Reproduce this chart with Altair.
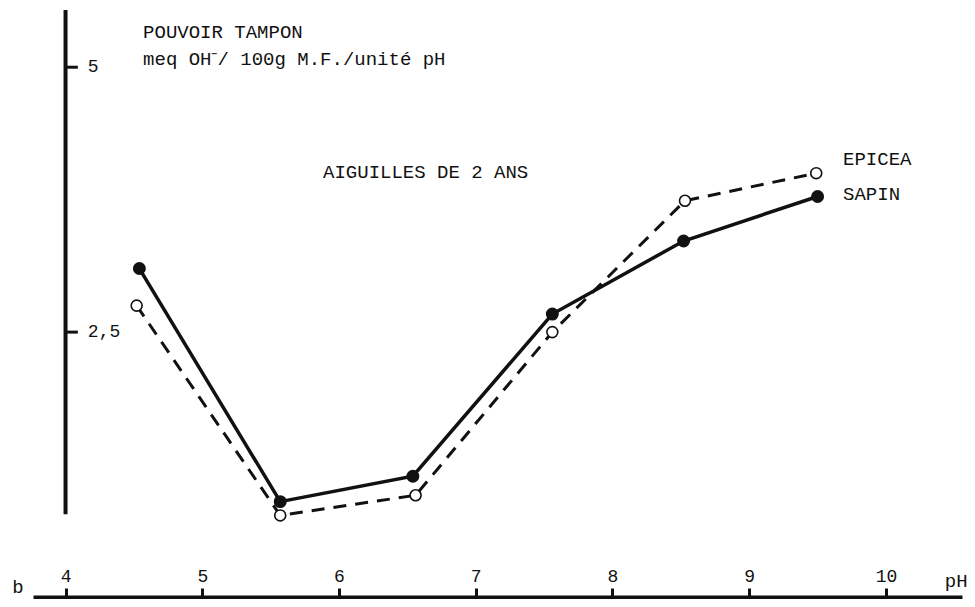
import altair as alt
import pandas as pd

# Data
ph_sapin = [4.54, 5.57, 6.54, 7.56, 8.52, 9.50]
val_sapin = [3.10, 0.90, 1.14, 2.67, 3.36, 3.78]
ph_epicea = [4.52, 5.57, 6.56, 7.56, 8.53, 9.49]
val_epicea = [2.75, 0.77, 0.96, 2.50, 3.74, 4.00]
x_ticks = [4, 5, 6, 7, 8, 9, 10]
y_ticks = [2.5, 5]
y_tick_labels = ["2,5", "5"]

FONT = "Liberation Mono"
INK = "#111111"

XMIN, XMAX = 3.762, 10.556
YMIN, YMAX = 0, 5.54
W, H = 929, 587

sapin = pd.DataFrame({"x": ph_sapin, "y": val_sapin})
epicea = pd.DataFrame({"x": ph_epicea, "y": val_epicea})

xscale = alt.Scale(domain=[XMIN, XMAX], nice=False, zero=False)
yscale = alt.Scale(domain=[YMIN, YMAX], nice=False, zero=False)

x_axis = alt.Axis(
    orient="top", offset=-H, values=x_ticks, format="d", grid=False,
    domainColor=INK, domainWidth=4, tickColor=INK, tickWidth=3, tickSize=9,
    labelFont=FONT, labelFontSize=18, labelColor=INK, labelPadding=3,
    title=None, labelFlush=False,
)

X = alt.X("x:Q", scale=xscale, axis=x_axis)
Y = alt.Y("y:Q", scale=yscale, axis=None)

line_sapin = alt.Chart(sapin).mark_line(color=INK, strokeWidth=3.5).encode(x=X, y=Y)
line_epicea = alt.Chart(epicea).mark_line(color=INK, strokeWidth=3, strokeDash=[13, 9]).encode(x=X, y=Y)
pts_sapin = alt.Chart(sapin).mark_point(shape="circle", filled=True, fill=INK, stroke=INK, size=120, opacity=1).encode(x=X, y=Y)
pts_epicea = alt.Chart(epicea).mark_point(shape="circle", filled=True, fill="white", stroke=INK, strokeWidth=1.6, size=120, opacity=1).encode(x=X, y=Y)

# vertical axis line and its ticks
yaxis_df = pd.DataFrame({"x": [4.0], "y": [0.78], "y2": [YMAX]})
yaxis_line = alt.Chart(yaxis_df).mark_rule(color=INK, strokeWidth=4).encode(x=X, y=Y, y2="y2:Q")
ytick_df = pd.DataFrame({"x": [4.0] * len(y_ticks), "x2": [4.09] * len(y_ticks), "y": y_ticks, "label": y_tick_labels})
ytick_rules = alt.Chart(ytick_df).mark_rule(color=INK, strokeWidth=3).encode(x=X, x2="x2:Q", y=Y)
ytick_text = alt.Chart(ytick_df).mark_text(align="left", baseline="middle", font=FONT, fontSize=18, color=INK, dx=10).encode(
    x=alt.X("x2:Q", scale=xscale), y=Y, text="label:N"
)

# annotations
ann = pd.DataFrame({
    "x": [4.567, 4.567, 5.883, 9.686, 9.686, 10.43, 3.61],
    "y": [5.278, 5.024, 3.95, 4.08, 3.75, 0.09, 0.035],
    "label": ["POUVOIR TAMPON", "meq OH\u207b/ 100g M.F./unité pH", "AIGUILLES DE 2 ANS",
              "EPICEA", "SAPIN", "pH", "b"],
})
ann_text = alt.Chart(ann).mark_text(align="left", baseline="alphabetic", font=FONT, fontSize=19, color=INK).encode(
    x=X, y=Y, text="label:N"
)

chart = alt.layer(
    yaxis_line, ytick_rules, ytick_text,
    line_epicea, line_sapin, pts_epicea, pts_sapin, ann_text,
).properties(
    width=W, height=H,
    autosize=alt.AutoSizeParams(type="none"),
    padding={"left": 25, "top": 2, "right": 5, "bottom": 2},
    background="white",
).configure_view(stroke=None)

chart.save("out.html", embed_options={"renderer": "svg", "actions": False})
